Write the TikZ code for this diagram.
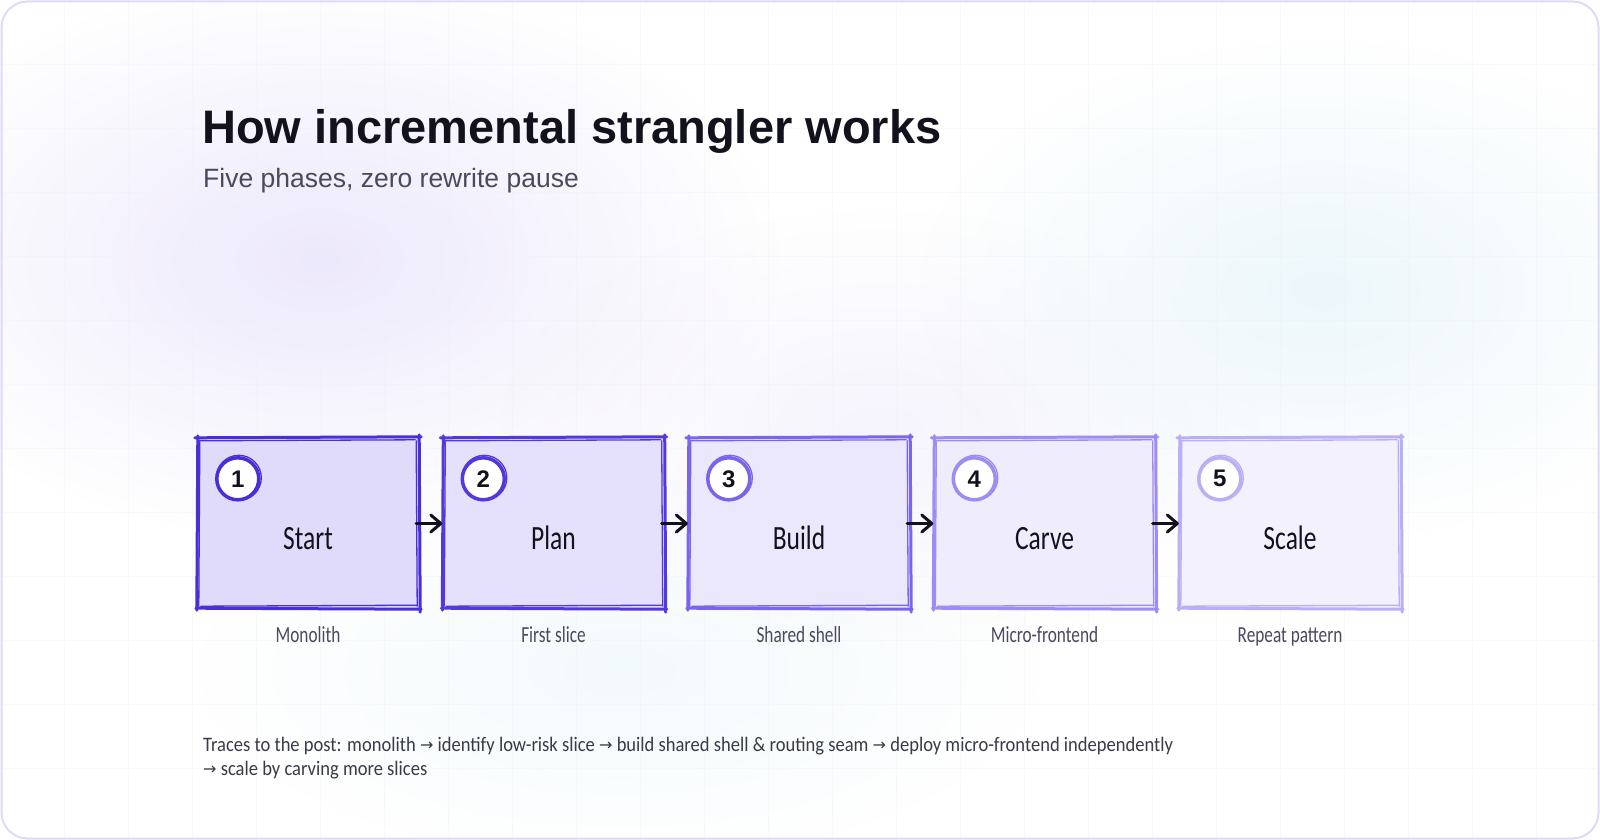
\documentclass[tikz,border=0pt]{standalone}
\usepackage{fontspec}
\setmainfont{Liberation Sans}
\newfontfamily\hand[FakeStretch=0.75]{Carlito}
\newfontfamily\handwide[FakeStretch=0.9]{Carlito}
\newfontfamily\dejavu{DejaVu Sans}
\usetikzlibrary{fadings,calc,arrows.meta}
\tikzfading[name=blobfade, inner color=transparent!0, outer color=transparent!100]
\definecolor{s1}{HTML}{4A2FD8}
\definecolor{s2}{HTML}{5338E0}
\definecolor{s3}{HTML}{7B63EE}
\definecolor{s4}{HTML}{9E8BF3}
\definecolor{s5}{HTML}{BAAEF6}
\definecolor{f1}{HTML}{E0DBFA}
\definecolor{f2}{HTML}{E5E0FC}
\definecolor{f3}{HTML}{EBE7FD}
\definecolor{f4}{HTML}{EFECFE}
\definecolor{f5}{HTML}{F3F1FE}
\definecolor{titlec}{HTML}{12121C}
\definecolor{subc}{HTML}{4A4A5C}
\definecolor{footc}{HTML}{3A3A48}
\definecolor{borderc}{HTML}{DEDAF5}
\definecolor{blobL}{HTML}{EDE9FC}
\definecolor{blobC}{HTML}{E8F5FA}
\definecolor{gridc}{HTML}{EEEDF5}
\newcommand{\rarr}{{\dejavu\fontsize{16}{18}\selectfont\raisebox{1pt}{→}}}
\tikzset{
  boxn/.style={rectangle, minimum width=222pt, minimum height=171pt, inner sep=0pt},
  numc/.style={circle, fill=white, line width=3.5pt, minimum size=42pt, inner sep=0pt,
    font=\fontsize{24}{28}\selectfont\bfseries, text=titlec},
  lab/.style={anchor=base, inner sep=0pt, font=\hand\fontsize{34}{40}\selectfont, text=titlec},
  sublab/.style={anchor=base, inner sep=0pt, font=\hand\fontsize{23}{28}\selectfont, text=subc},
  foot/.style={anchor=base west, inner sep=0pt, font=\handwide\fontsize{20.6}{24}\selectfont, text=footc},
  arr/.style={line width=3pt, draw=titlec, line cap=round, line join=round,
    -{Straight Barb[length=10pt, width=17pt, line cap=round, line join=round]}},
  gridline/.style={draw=gridc, line width=0.8pt}
}
\begin{document}
\begin{tikzpicture}[x=1pt,y=-1pt]
\useasboundingbox (0,0) rectangle (1600,840);
\fill[white, rounded corners=26pt] (1.5,1.5) rectangle (1598.5,838.5);
% soft background blobs
\fill[blobL, path fading=blobfade] (320,260) ellipse (460 and 280);
\fill[blobL, path fading=blobfade, fill opacity=0.5] (880,430) ellipse (380 and 220);
\fill[blobC, path fading=blobfade, fill opacity=0.8] (1320,290) ellipse (400 and 250);
\fill[blobC, path fading=blobfade, fill opacity=0.5] (620,670) ellipse (420 and 190);
% faint grid
\foreach \x in {64,128,...,1536} \draw[gridline, opacity=0.3] (\x,3) -- (\x,837);
\foreach \y in {64,128,...,768} \draw[gridline, opacity=0.3] (3,\y) -- (1597,\y);
% border
\draw[borderc, line width=2pt, rounded corners=26pt] (1.5,1.5) rectangle (1598.5,838.5);
% title
\node[anchor=base west, inner sep=0pt, font=\fontsize{47}{52}\selectfont\bfseries, text=titlec] (title) at (202,143) {How incremental strangler works};
\node[anchor=base west, inner sep=0pt, font=\fontsize{26.5}{30}\selectfont, text=subc] (subtitle) at (203,187) {Five phases, zero rewrite pause};
% boxes
\foreach \i/\sc/\fc/\lb/\sb in {1/s1/f1/Start/Monolith, 2/s2/f2/Plan/First slice, 3/s3/f3/Build/Shared shell, 4/s4/f4/Carve/Micro-frontend, 5/s5/f5/Scale/Repeat pattern}{
  \node[boxn, fill=\fc] (b\i) at ({197+245.5*(\i-1)+111}, 523.5) {};
  \draw[draw=\sc, line width=3pt, line cap=round]
    ($(b\i.north west)+(-2,0)$) -- ($(b\i.north east)+(2,-1)$);
  \draw[draw=\sc, line width=3pt, line cap=round]
    ($(b\i.north east)+(0,-3)$) -- ($(b\i.south east)+(1,3)$);
  \draw[draw=\sc, line width=3pt, line cap=round]
    ($(b\i.south east)+(2,0)$) -- ($(b\i.south west)+(-1,-1)$);
  \draw[draw=\sc, line width=3pt, line cap=round]
    ($(b\i.south west)+(0,1)$) -- ($(b\i.north west)+(1,-2)$);
  \draw[draw=\sc, line width=1.3pt, line cap=round]
    ($(b\i.north west)+(3,4)$) -- ($(b\i.south west)+(2,-3)$);
  \draw[draw=\sc, line width=1.3pt, line cap=round]
    ($(b\i.south west)+(4,-3)$) -- ($(b\i.south east)+(-2,-4)$);
  \draw[draw=\sc, line width=1.3pt, line cap=round]
    ($(b\i.north east)+(-3,3)$) -- ($(b\i.south east)+(-2,-3)$);
  \draw[draw=\sc, line width=1.3pt, line cap=round]
    ($(b\i.north west)+(2,3)$) -- ($(b\i.north east)+(-4,2)$);
  \node[numc, draw=\sc] (n\i) at ($(b\i.north west)+(41,41)$) {\i};
  \draw[draw=\sc, line width=1.3pt] ($(n\i.center)+(1,-1)$) circle (22.5);
  \node[lab] (l\i) at ($(b\i.center)+(0,26)$) {\lb};
  \node[sublab] (u\i) at ($(b\i.south)+(0,33)$) {\sb};
}
\foreach \i/\j in {1/2,2/3,3/4,4/5} \draw[arr] ($(b\i.east)+(-3,0)$) -- (b\j.west);
% footnote
\node[foot] (foot1) at (203,751) {Traces to the post: monolith \rarr{} identify low-risk slice \rarr{} build shared shell \& routing seam \rarr{} deploy micro-frontend independently};
\node[foot] (foot2) at ($(foot1.base west)+(0,24)$) {\rarr{} scale by carving more slices};
\end{tikzpicture}
\end{document}
